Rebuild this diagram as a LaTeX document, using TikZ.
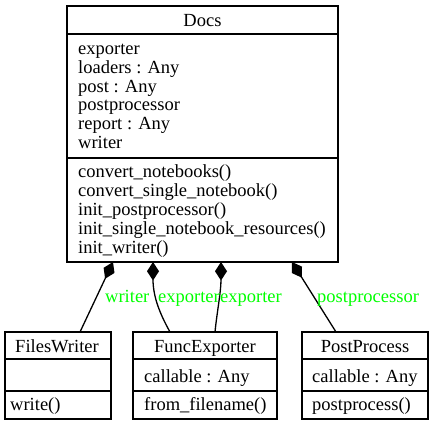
\documentclass[tikz,border=0pt]{standalone}
\usepackage{fontspec}
\setmainfont{Liberation Serif}
\usetikzlibrary{arrows.meta}

\definecolor{rolegreen}{RGB}{0,255,0}

\tikzset{
	umlbox/.style={draw, line width=1.3pt, inner sep=0pt, outer sep=0pt, anchor=north west},
	sep/.style={line width=1.3pt},
	ttl/.style={font=\fontsize{18.5}{18.8}\selectfont, inner sep=0pt, anchor=base},
	txt/.style={font=\fontsize{18.5}{18.8}\selectfont, inner sep=0pt, align=left, anchor=base west},
	role/.style={txt, text=rolegreen},
	comp/.style={line width=1.3pt, {Diamond[length=18.5pt,width=12pt]}-}
}

\begin{document}
\begin{tikzpicture}[x=1pt, y=-1pt]
		\useasboundingbox (0,0) rectangle (433,427);
		% Docs
		\node[umlbox, minimum width=271pt, minimum height=256pt] (docs) at (67,6) {};
		\draw[sep] (docs.west |- 0,34) -- (docs.east |- 0,34);
		\draw[sep] (docs.west |- 0,158) -- (docs.east |- 0,158);
		\node[ttl] (docsname) at (202.5,26.5) {Docs};
		% base of a multi-line node = last line
		\node[txt] (docsattr) at (78,148.5) {exporter\\loaders : Any\\post : Any\\postprocessor\\report : Any\\writer};
		\node[txt] (docsops) at (78,253.2) {convert\_notebooks()\\convert\_single\_notebook()\\init\_postprocessor()\\init\_single\_notebook\_resources()\\init\_writer()};
		% FilesWriter
		\node[umlbox, minimum width=106pt, minimum height=87pt] (fw) at (5,332) {};
		\draw[sep] (fw.west |- 0,359) -- (fw.east |- 0,359);
		\draw[sep] (fw.west |- 0,391) -- (fw.east |- 0,391);
		\node[ttl] (fwname) at (57,352) {FilesWriter};
		\node[txt] (fwops) at (10,410) {write()};
		% FuncExporter
		\node[umlbox, minimum width=144pt, minimum height=87pt] (fe) at (133,332) {};
		\draw[sep] (fe.west |- 0,359) -- (fe.east |- 0,359);
		\draw[sep] (fe.west |- 0,391) -- (fe.east |- 0,391);
		\node[ttl] (fename) at (205,352) {FuncExporter};
		\node[txt] (feattr) at (144,382) {callable : Any};
		\node[txt] (feops) at (144,410) {from\_filename()};
		% PostProcess
		\node[umlbox, minimum width=126pt, minimum height=87pt] (pp) at (302,332) {};
		\draw[sep] (pp.west |- 0,359) -- (pp.east |- 0,359);
		\draw[sep] (pp.west |- 0,391) -- (pp.east |- 0,391);
		\node[ttl] (ppname) at (365,352) {PostProcess};
		\node[txt] (ppattr) at (312,382) {callable : Any};
		\node[txt] (ppops) at (312,410) {postprocess()};
		% compositions
		\draw[comp] ([xshift=46pt]docs.south west) -- ([xshift=75pt]fw.north west);
		\draw[comp] ([xshift=86pt]docs.south west) .. controls +(0,35) and +(-10,-18) .. ([xshift=37pt]fe.north west);
		\draw[comp] ([xshift=154pt]docs.south west) .. controls +(0,30) and +(2,-20) .. ([xshift=82pt]fe.north west);
		\draw[comp] ([xshift=225pt]docs.south west) -- ([xshift=34pt]pp.north west);
		\node[role] (wrlabel) at (105,302) {writer};
		\node[role] (exlabela) at (158,302) {exporter};
		\node[role] (exlabelb) at (220,302) {exporter};
		\node[role] (pplabel) at (317,302) {postprocessor};
	\end{tikzpicture}
\end{document}
